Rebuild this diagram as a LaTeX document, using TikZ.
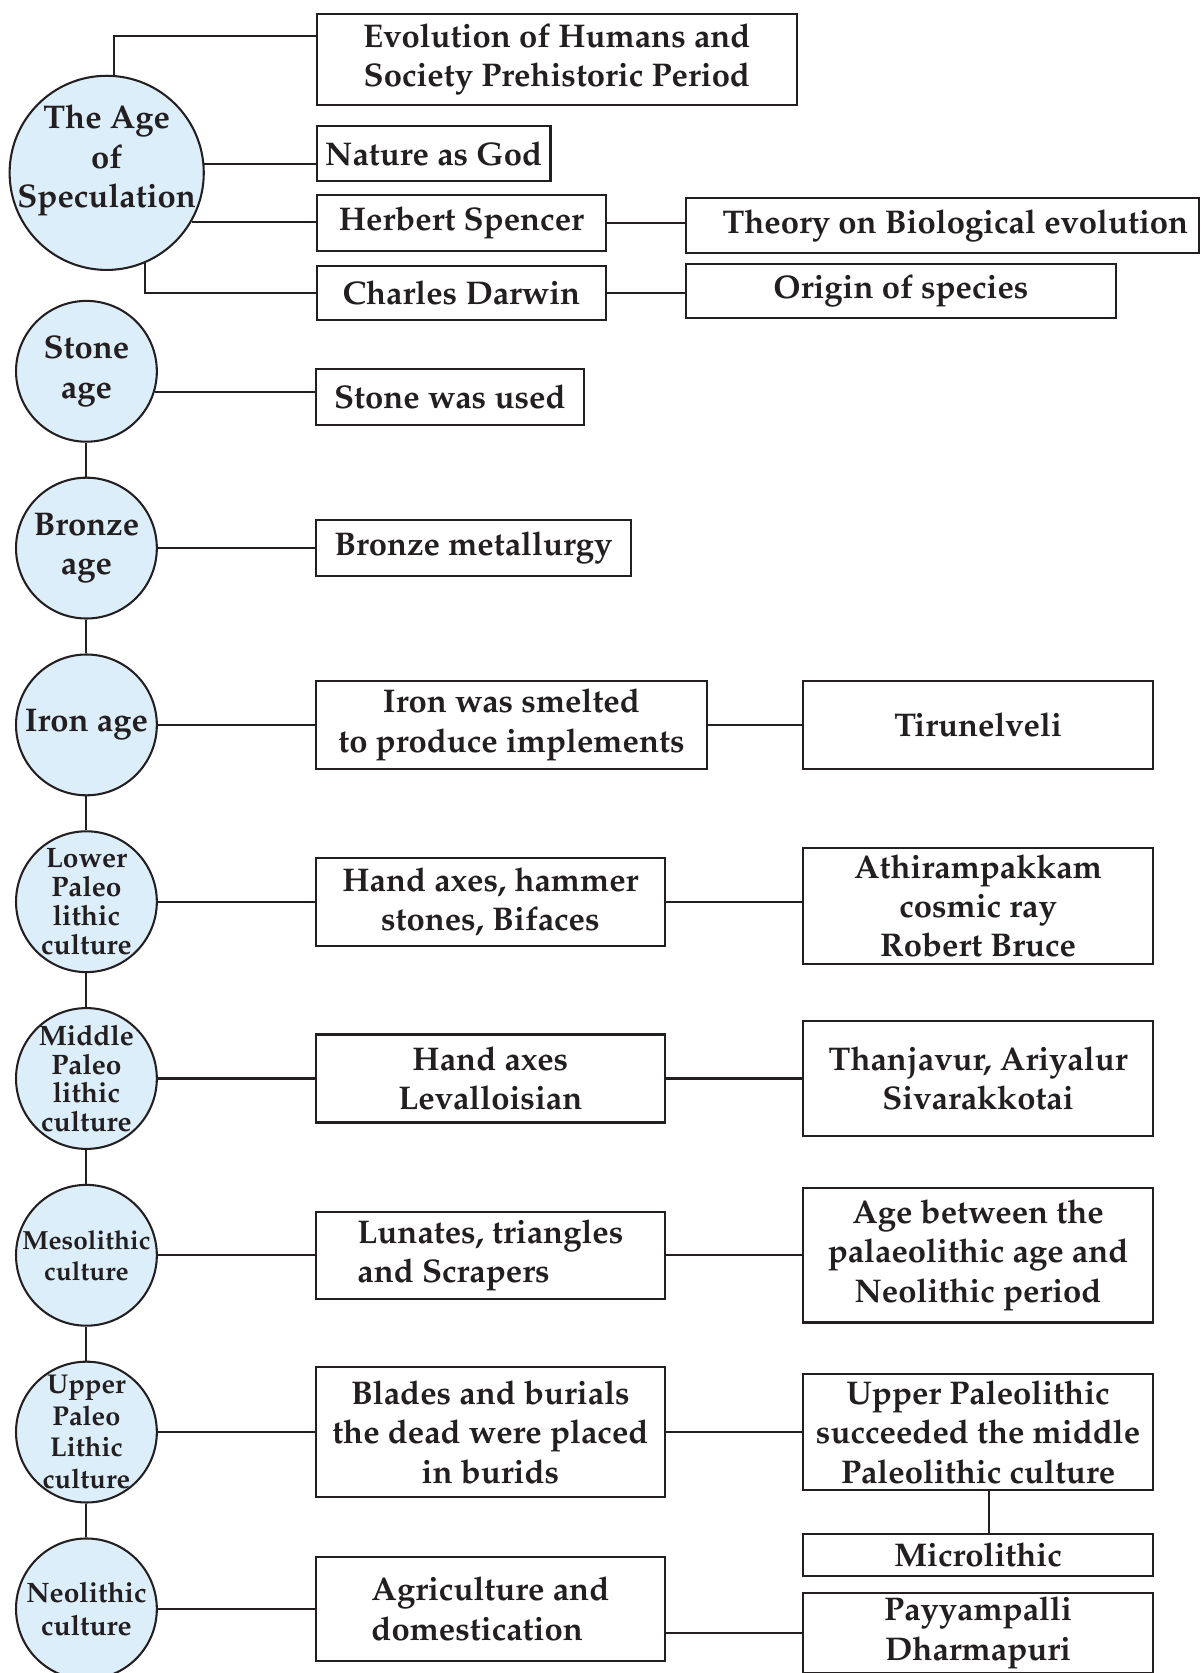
\documentclass[tikz,border=0pt]{standalone}
\usepackage[T1]{fontenc}
\usepackage{mathpazo}
\usepackage{xcolor}
\usepackage{tikz}
\usetikzlibrary{positioning,calc}

\definecolor{ageblue}{RGB}{221,238,251}
\definecolor{inkline}{RGB}{35,31,32}

\begin{document}
\begin{tikzpicture}[
    x=0.02cm, y=-0.02cm,
    node distance=0.636cm,
    age/.style={circle, draw=inkline, line width=1.1pt, fill=ageblue, minimum size=2.64cm, inner sep=-1cm, align=center, text=inkline, font=\bfseries\fontsize{17.5}{21}\selectfont},
    item/.style={rectangle, draw=inkline, line width=1.1pt, fill=white, align=center, inner sep=1pt, text=inkline, font=\bfseries\fontsize{17.5}{21}\selectfont},
    link/.style={draw=inkline, line width=1.1pt}
]
    \useasboundingbox (0,0) rectangle (1125,1568);

    % Speculation
    \node[age, minimum size=3.64cm] (spec) at (100,162) {};
    \node[align=center, text=inkline, font=\bfseries\fontsize{17.5}{21}\selectfont] (specT) at ([yshift=0.23cm]spec.center) {The Age\\of\\Speculation};

    \node[item, anchor=west, minimum width=9cm, minimum height=1.7cm] (evol) at (296,55.5) {Evolution of Humans and\\Society Prehistoric Period};
    \node[item, anchor=west, minimum width=4.38cm, minimum height=1.04cm] (nature) at (296,144) {Nature as God};
    \node[item, anchor=west, minimum width=5.42cm, minimum height=1.04cm] (herbert) at (296,209) {Herbert Spencer};
    \node[item, anchor=west, minimum width=5.42cm, minimum height=1.02cm] (darwin) at (296,274.5) {Charles Darwin};
    \node[item, anchor=west, minimum width=9.62cm, minimum height=1.02cm] (theory) at (642,211.5) {\hspace*{0.48cm}Theory on Biological evolution};
    \node[item, anchor=west, minimum width=8.06cm, minimum height=1.02cm] (origin) at (642,272.5) {Origin of species};

    % Ages
    \node[age] (stoneC) at (81,348) {Stone\\age};
    \node[age, below=of stoneC] (bronzeC) {Bronze\\age};
    \node[age, below=of bronzeC] (ironC) {Iron age};
    \node[age, below=of ironC, font=\bfseries\fontsize{15}{15.4}\selectfont] (lowerC) {Lower\\Paleo\\lithic\\culture};
    \node[age, below=of lowerC, font=\bfseries\fontsize{15}{15.4}\selectfont] (middleC) {Middle\\Paleo\\lithic\\culture};
    \node[age, below=of middleC, font=\bfseries\fontsize{14}{16.5}\selectfont] (mesoC) {Mesolithic\\culture};
    \node[age, below=of mesoC, font=\bfseries\fontsize{14.5}{17}\selectfont] (upperC) {Upper\\Paleo\\Lithic\\culture};
    \node[age, below=of upperC, font=\bfseries\fontsize{15}{17.6}\selectfont] (neoC) {Neolithic\\culture};

    % Tools
    \node[item, right=2.94cm of stoneC, yshift=-0.48cm, minimum width=5.03cm, minimum height=1.04cm] (stoneB) {Stone was used};
    \node[item, right=2.94cm of bronzeC, minimum width=5.91cm, minimum height=1.04cm] (bronzeB) {Bronze metallurgy};
    \node[item, right=2.94cm of ironC, minimum width=7.34cm, minimum height=1.66cm] (ironB) {Iron was smelted\\to produce implements};
    \node[item, right=2.94cm of lowerC, minimum width=6.55cm, minimum height=1.65cm] (lowerB) {Hand axes, hammer\\stones, Bifaces};
    \node[item, right=2.94cm of middleC, minimum width=6.55cm, minimum height=1.65cm] (middleB) {Hand axes\\Levalloisian};
    \node[item, right=2.94cm of mesoC, align=left, minimum width=6.55cm, minimum height=1.64cm] (mesoB) {Lunates, triangles\\and Scrapers};
    \node[item, right=2.94cm of upperC, minimum width=6.55cm, minimum height=2.43cm] (upperB) {Blades and burials\\the dead were placed\\in burids};
    \node[item, right=2.94cm of neoC, align=left, minimum width=6.55cm, minimum height=1.94cm] (agriB) {Agriculture and\\domestication};

    % Sites
    \node[item, right=1.76cm of ironB, minimum width=6.56cm, minimum height=1.65cm] (tirun) {Tirunelveli};
    \node[item, right=2.55cm of lowerB, yshift=-0.08cm, minimum width=6.56cm, minimum height=2.16cm] (athir) {Athirampakkam\\cosmic ray\\Robert Bruce};
    \node[item, right=2.55cm of middleB, minimum width=6.56cm, minimum height=2.17cm] (thanj) {Thanjavur, Ariyalur\\Sivarakkotai};
    \node[item, right=2.55cm of mesoB, minimum width=6.56cm, minimum height=2.52cm] (agebtw) {Age between the\\palaeolithic age and\\Neolithic period};
    \node[item, right=2.55cm of upperB, minimum width=6.56cm, minimum height=2.17cm] (upperS) {Upper Paleolithic\\succeeded the middle\\Paleolithic culture};
    \node[item, below=0.79cm of upperS, minimum width=6.56cm, minimum height=0.79cm] (micro) {Microlithic};
    \node[item, below=0.27cm of micro, minimum width=6.56cm, minimum height=1.5cm] (paya) {Payyampalli\\Dharmapuri};

    % Lines
    \draw[link] (spec.86) |- ($(evol.north west)!0.25!(evol.south west)$);
    \draw[link] (spec.5) -- (spec.5 -| nature.west);
    \draw[link] (spec.-30) -- (spec.-30 -| herbert.west);
    \draw[link] (spec.-67) |- (darwin.west);
    \draw[link] (herbert.east) -- (herbert.east -| theory.west);
    \draw[link] (darwin.east) -- (darwin.east -| origin.west);

    \foreach \a/\b in {stoneC/bronzeC, bronzeC/ironC, ironC/lowerC, lowerC/middleC, middleC/mesoC, mesoC/upperC, upperC/neoC}
        \draw[link] (\a) -- (\b);

    \draw[link] (stoneC.-17) -- (stoneC.-17 -| stoneB.west);
    \foreach \a/\b in {bronzeC/bronzeB, ironC/ironB, lowerC/lowerB, middleC/middleB, mesoC/mesoB, upperC/upperB, neoC/agriB}
        \draw[link] (\a) -- (\b);

    \foreach \a/\b in {ironB/tirun, lowerB/athir, middleB/thanj, mesoB/agebtw, upperB/upperS}
        \draw[link] (\a.east) -- (\a.east -| \b.west);
    \draw[link] ([xshift=0.2cm]upperS.south) -- ([xshift=0.2cm]micro.north);
    \draw[link] (paya.west) -- (paya.west -| agriB.east);

\end{tikzpicture}
\end{document}
